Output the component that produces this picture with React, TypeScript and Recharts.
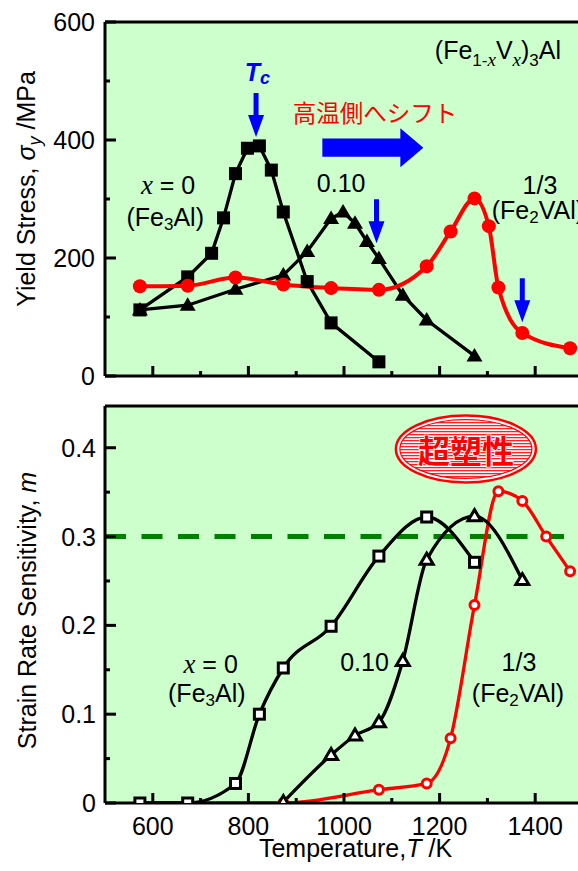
import React from 'react';
import { LineChart, Line, XAxis, YAxis, CartesianGrid, ReferenceLine, ReferenceDot } from 'recharts';

const SANS = '"Liberation Sans", Arial, Helvetica, sans-serif';
const SERIF = '"Liberation Serif", "Times New Roman", serif';
const CJK = '"Noto Sans CJK JP", "Noto Sans CJK SC", sans-serif';

// ---------- data: top panel (yield stress, MPa) ----------
const tempsFe3AlYS = [573, 673, 723, 748, 773, 798, 823, 848, 873, 923, 973, 1073];
const ysFe3Al = [112, 168, 208, 268, 343, 386, 390, 349, 278, 160, 90, 24];
const tempsX010YS = [573, 673, 773, 873, 923, 973, 998, 1023, 1048, 1073, 1123, 1173, 1273];
const ysX010 = [112, 120, 147, 171, 211, 267, 278, 259, 228, 199, 137, 95, 34];
const tempsFe2VAlYS = [573, 673, 773, 873, 973, 1073, 1173, 1223, 1273, 1303, 1323, 1373, 1473];
const ysFe2VAl = [152, 153, 167, 155, 149, 146, 186, 245, 301, 254, 150, 73, 47];

// ---------- data: bottom panel (strain rate sensitivity m) ----------
const tempsFe3AlM = [573, 673, 773, 823, 873, 973, 1073, 1173, 1273];
const mFe3Al = [0, 0, 0.022, 0.1, 0.152, 0.199, 0.278, 0.322, 0.271];
const tempsX010M = [873, 973, 1023, 1073, 1123, 1173, 1273, 1373];
const mX010 = [0.001, 0.054, 0.076, 0.091, 0.16, 0.274, 0.323, 0.251];
const tempsFe2VAlM = [573, 673, 873, 1073, 1173, 1223, 1273, 1323, 1373, 1423, 1473];
const mFe2VAl = [0, 0, 0, 0.015, 0.022, 0.073, 0.223, 0.351, 0.34, 0.3, 0.261];

// ---------- ticks ----------
const xTicks = [600, 700, 800, 900, 1000, 1100, 1200, 1300, 1400];
const yTicksTop = [0, 100, 200, 300, 400, 500, 600];
const yTicksBottom = [0, 0.05, 0.1, 0.15, 0.2, 0.25, 0.3, 0.35, 0.4];
const superplasticLevel = 0.3;

// ---------- annotation anchors (data coordinates) ----------
const tcArrows = [
  { t: 816, v: 405 },
  { t: 1068, v: 225 },
  { t: 1373, v: 91 },
];

const zip = (xs: number[], ys: number[]) => xs.map((t, i) => ({ t, v: ys[i] }));

const fe3alYS = zip(tempsFe3AlYS, ysFe3Al);
const x010YS = zip(tempsX010YS, ysX010);
const fe2valYS = zip(tempsFe2VAlYS, ysFe2VAl);
const fe3alM = zip(tempsFe3AlM, mFe3Al);
const x010M = zip(tempsX010M, mX010);
const fe2valM = zip(tempsFe2VAlM, mFe2VAl);

const AX = { stroke: '#000', strokeWidth: 3 };

const isMult = (v: number, step: number) => Math.abs(v / step - Math.round(v / step)) < 1e-6;

const xTickTop = (p: any) => {
  const major = isMult(p.payload.value, 200);
  return (
    <g>
      <line x1={p.x} x2={p.x} y1={p.y} y2={p.y - (major ? 10 : 5)} stroke="#000" strokeWidth={3} />
    </g>
  );
};
const xTickBottom = (p: any) => {
  const major = isMult(p.payload.value, 200);
  return (
    <g>
      <line x1={p.x} x2={p.x} y1={p.y} y2={p.y - (major ? 10 : 5)} stroke="#000" strokeWidth={3} />
      {major && (
        <text x={p.x} y={p.y + 32} textAnchor="middle" fontSize={25} fontFamily={SANS} fill="#000">
          {p.payload.value}
        </text>
      )}
    </g>
  );
};
const yTickTop = (p: any) => {
  const major = isMult(p.payload.value, 200);
  return (
    <g>
      <line x1={p.x} x2={p.x + (major ? 11 : 5)} y1={p.y} y2={p.y} stroke="#000" strokeWidth={3} />
      {major && (
        <text x={p.x - 10} y={p.y + 9} textAnchor="end" fontSize={25} fontFamily={SANS} fill="#000">
          {p.payload.value}
        </text>
      )}
    </g>
  );
};
const yTickBottom = (p: any) => {
  const v = p.payload.value;
  const major = isMult(v, 0.1);
  return (
    <g>
      <line x1={p.x} x2={p.x + (major ? 11 : 5)} y1={p.y} y2={p.y} stroke="#000" strokeWidth={3} />
      {major && (
        <text x={p.x - 9} y={p.y + 9} textAnchor="end" fontSize={25} fontFamily={SANS} fill="#000">
          {v === 0 ? '0' : v.toFixed(1)}
        </text>
      )}
    </g>
  );
};

// ---------- markers ----------
const sqFilled = (p: any) => (
  <rect key={`sf${p.index}`} x={p.cx - 6.5} y={p.cy - 6.5} width={13} height={13} fill="#000" />
);
const triFilled = (p: any) => (
  <path key={`tf${p.index}`} d={`M${p.cx},${p.cy - 8} L${p.cx + 8},${p.cy + 5.5} L${p.cx - 8},${p.cy + 5.5} Z`} fill="#000" />
);
const circFilled = (p: any) => <circle key={`cf${p.index}`} cx={p.cx} cy={p.cy} r={7} fill="#ff0000" />;
const sqOpen = (p: any) => (
  <rect key={`so${p.index}`} x={p.cx - 5} y={p.cy - 5} width={10} height={10} fill="#fff" stroke="#000" strokeWidth={3} />
);
const triOpen = (p: any) => (
  <path key={`to${p.index}`} d={`M${p.cx},${p.cy - 6.5} L${p.cx + 6.5},${p.cy + 4.5} L${p.cx - 6.5},${p.cy + 4.5} Z`} fill="#fff" stroke="#000" strokeWidth={3} strokeLinejoin="miter" />
);
const circOpen = (p: any) => (
  <circle key={`co${p.index}`} cx={p.cx} cy={p.cy} r={4.5} fill="#fff" stroke="#ff0000" strokeWidth={3} />
);

// ---------- annotation shapes ----------
const downArrow = (p: any) => {
  const { cx, cy } = p;
  const L = 44, hl = 22, hw = 8, sw = 2.5;
  return (
    <path
      d={`M${cx - sw},${cy - L} L${cx + sw},${cy - L} L${cx + sw},${cy - hl} L${cx + hw},${cy - hl} L${cx},${cy} L${cx - hw},${cy - hl} L${cx - sw},${cy - hl} Z`}
      fill="#0000ff"
    />
  );
};
const bigArrow = (p: any) => {
  const { cx, cy } = p;
  const L = 101, hl = 23, hh = 19.5, sh = 9.2;
  return (
    <path
      d={`M${cx - L},${cy - sh} L${cx - hl},${cy - sh} L${cx - hl},${cy - hh} L${cx},${cy} L${cx - hl},${cy + hh} L${cx - hl},${cy + sh} L${cx - L},${cy + sh} Z`}
      fill="#0000ff"
    />
  );
};
const txt = (content: React.ReactNode, anchor: string = 'middle', extra: any = {}) => (p: any) => (
  <text x={p.cx} y={p.cy} textAnchor={anchor} dominantBaseline="central" fontSize={25} fontFamily={SANS} fill="#000" {...extra}>
    {content}
  </text>
);
const xEq0 = (
  <>
    <tspan fontFamily={SERIF} fontStyle="italic" fontSize={27}>x</tspan>
    <tspan> = 0</tspan>
  </>
);
const fe3al = (
  <>
    <tspan>(Fe</tspan>
    <tspan fontSize={17} dy={7}>3</tspan>
    <tspan dy={-7}>Al)</tspan>
  </>
);
const fe2val = (
  <>
    <tspan>(Fe</tspan>
    <tspan fontSize={17} dy={7}>2</tspan>
    <tspan dy={-7}>VAl)</tspan>
  </>
);
const formula = (p: any) => (
  <text x={p.cx} y={p.cy} textAnchor="start" fontSize={25} fontFamily={SANS} fill="#000">
    <tspan>(Fe</tspan>
    <tspan fontSize={17} dy={7}>1-</tspan>
    <tspan fontSize={19} fontFamily={SERIF} fontStyle="italic">x</tspan>
    <tspan dy={-7}>V</tspan>
    <tspan fontSize={19} dy={7} fontFamily={SERIF} fontStyle="italic">x</tspan>
    <tspan dy={-7}>)</tspan>
    <tspan fontSize={17} dy={7}>3</tspan>
    <tspan dy={-7}>Al</tspan>
  </text>
);
const tcLabel = (p: any) => (
  <text x={p.cx} y={p.cy} textAnchor="middle" dominantBaseline="central" fontSize={25} fontWeight="bold" fontStyle="italic" fontFamily={SANS} fill="#0000ff">
    <tspan>T</tspan>
    <tspan fontSize={18} dy={6}>c</tspan>
  </text>
);
const shiftLabel = (p: any) => (
  <text x={p.cx} y={p.cy} textAnchor="middle" dominantBaseline="central" fontSize={23.5} fontFamily={CJK} fill="#ff0000">
    高温側へシフト
  </text>
);
const superBadge = (p: any) => {
  const { cx, cy } = p;
  return (
    <g>
      <defs>
        <pattern id="hatchRed" width="4" height="3" patternUnits="userSpaceOnUse">
          <rect width="4" height="3" fill="#ffffff" />
          <rect width="4" height="1.3" fill="#ff2020" />
        </pattern>
      </defs>
      <ellipse cx={cx} cy={cy} rx={70} ry={33.5} fill="#ffffff" stroke="#ff0000" strokeWidth={2.5} />
      <ellipse cx={cx} cy={cy} rx={66} ry={29.5} fill="url(#hatchRed)" stroke="#ff0000" strokeWidth={1.2} />
      <text x={cx} y={cy} textAnchor="middle" dominantBaseline="central" fontSize={32} fontWeight="bold" fontFamily={CJK} fill="#ff0000" stroke="#ffffff" strokeWidth={1.5} paintOrder="stroke">
        超塑性
      </text>
    </g>
  );
};

const topYTitle = () => (
  <text x={35} y={189} transform="rotate(-90 35 189)" textAnchor="middle" fontSize={25} fontFamily={SANS} fill="#000">
    <tspan>Yield Stress, </tspan>
    <tspan fontStyle="italic">σ</tspan>
    <tspan fontStyle="italic" fontSize={18} dy={6}>y</tspan>
    <tspan dy={-6}> /MPa</tspan>
  </text>
);
const bottomYTitle = () => (
  <text x={36} y={218.5} transform="rotate(-90 36 218.5)" textAnchor="middle" fontSize={25} fontFamily={SANS} fill="#000">
    <tspan>Strain Rate Sensitivity, </tspan>
    <tspan fontStyle="italic">m</tspan>
  </text>
);
const bottomXTitle = () => (
  <text x={355.5} y={465} textAnchor="middle" fontSize={25} fontFamily={SANS} fill="#000">
    <tspan>Temperature,</tspan>
    <tspan fontStyle="italic">T</tspan>
    <tspan> /K</tspan>
  </text>
);

export default function App() {
  return (
    <div style={{ position: 'absolute', left: 0, top: 0, width: 578, height: 871, overflow: 'hidden', background: '#fff', fontFamily: SANS }}>
      <LineChart width={600} height={392} margin={{ top: 22, right: 17, bottom: 0, left: 0 }}>
        <CartesianGrid fill="#CCFFCC" stroke="none" horizontal={false} vertical={false} />
        <XAxis type="number" dataKey="t" domain={[500, 1500]} ticks={xTicks} interval={0} height={16} tickSize={0} tickMargin={0} axisLine={AX} tick={xTickTop} allowDataOverflow />
        <YAxis type="number" domain={[0, 600]} ticks={yTicksTop} interval={0} width={105} tickSize={0} tickMargin={0} axisLine={AX} tick={yTickTop} allowDataOverflow label={topYTitle} />
        <ReferenceLine y={600} stroke="#000" strokeWidth={3} ifOverflow="visible" />
        <Line data={x010YS} dataKey="v" type="linear" stroke="#000" strokeWidth={3.3} dot={triFilled} activeDot={false} isAnimationActive={false} />
        <Line data={fe3alYS} dataKey="v" type="linear" stroke="#000" strokeWidth={3.3} dot={sqFilled} activeDot={false} isAnimationActive={false} />
        <Line data={fe2valYS} dataKey="v" type="monotone" stroke="#ff0000" strokeWidth={4} dot={circFilled} activeDot={false} isAnimationActive={false} />
        <ReferenceDot x={819} y={515} r={0} ifOverflow="visible" shape={tcLabel} />
        {tcArrows.map((a, i) => (
          <ReferenceDot key={`arr${i}`} x={a.t} y={a.v} r={0} ifOverflow="visible" shape={downArrow} />
        ))}
        <ReferenceDot x={1166} y={387} r={0} ifOverflow="visible" shape={bigArrow} />
        <ReferenceDot x={1065} y={447} r={0} ifOverflow="visible" shape={shiftLabel} />
        <ReferenceDot x={1190} y={538} r={0} ifOverflow="visible" shape={formula} />
        <ReferenceDot x={632} y={324} r={0} ifOverflow="visible" shape={txt(xEq0)} />
        <ReferenceDot x={626} y={270} r={0} ifOverflow="visible" shape={txt(fe3al)} />
        <ReferenceDot x={994} y={327} r={0} ifOverflow="visible" shape={txt('0.10')} />
        <ReferenceDot x={1410} y={324} r={0} ifOverflow="visible" shape={txt('1/3')} />
        <ReferenceDot x={1309} y={281} r={0} ifOverflow="visible" shape={txt(fe2val, 'start')} />
      </LineChart>
      <LineChart width={600} height={479} margin={{ top: 14, right: 17, bottom: 0, left: 0 }}>
        <CartesianGrid fill="#CCFFCC" stroke="none" horizontal={false} vertical={false} />
        <XAxis type="number" dataKey="t" domain={[500, 1500]} ticks={xTicks} interval={0} height={68} tickSize={0} tickMargin={0} axisLine={AX} tick={xTickBottom} allowDataOverflow label={bottomXTitle} />
        <YAxis type="number" domain={[0, 0.447]} ticks={yTicksBottom} interval={0} width={105} tickSize={0} tickMargin={0} axisLine={AX} tick={yTickBottom} allowDataOverflow label={bottomYTitle} />
        <ReferenceLine y={superplasticLevel} stroke="#008000" strokeWidth={5} strokeDasharray="21 15.5" />
        <ReferenceLine y={0.447} stroke="#000" strokeWidth={3} ifOverflow="visible" />
        <Line data={fe2valM} dataKey="v" type="monotone" stroke="#ff0000" strokeWidth={3.3} dot={circOpen} activeDot={false} isAnimationActive={false} />
        <Line data={x010M} dataKey="v" type="monotone" stroke="#000" strokeWidth={3.3} dot={triOpen} activeDot={false} isAnimationActive={false} />
        <Line data={fe3alM} dataKey="v" type="monotone" stroke="#000" strokeWidth={3.3} dot={sqOpen} activeDot={false} isAnimationActive={false} />
        <ReferenceDot x={1255} y={0.3986} r={0} ifOverflow="visible" shape={superBadge} />
        <ReferenceDot x={721} y={0.157} r={0} ifOverflow="visible" shape={txt(xEq0)} />
        <ReferenceDot x={713} y={0.1235} r={0} ifOverflow="visible" shape={txt(fe3al)} />
        <ReferenceDot x={1043} y={0.159} r={0} ifOverflow="visible" shape={txt('0.10')} />
        <ReferenceDot x={1366} y={0.159} r={0} ifOverflow="visible" shape={txt('1/3')} />
        <ReferenceDot x={1364} y={0.1235} r={0} ifOverflow="visible" shape={txt(fe2val)} />
      </LineChart>
    </div>
  );
}
